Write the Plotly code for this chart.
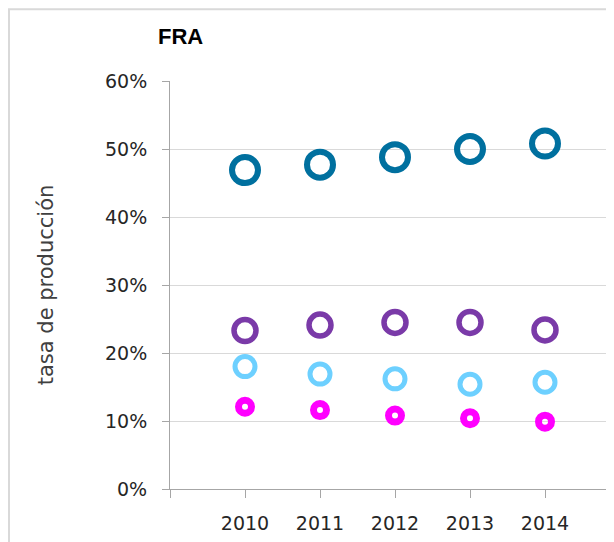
import plotly.graph_objects as go

# FRA - tasa de producción por año
years = [2010, 2011, 2012, 2013, 2014]
serie_azul = [0.469, 0.477, 0.488, 0.500, 0.508]
serie_morada = [0.233, 0.241, 0.245, 0.245, 0.234]
serie_celeste = [0.180, 0.169, 0.162, 0.154, 0.157]
serie_magenta = [0.121, 0.116, 0.108, 0.104, 0.099]

x_tickvals = [2009, 2010, 2011, 2012, 2013, 2014]
x_ticktext = ["", "2010", "2011", "2012", "2013", "2014"]
y_tickvals = [0, 0.1, 0.2, 0.3, 0.4, 0.5, 0.6]

series = [
    (serie_magenta, "#ff00ff", 13, 7),
    (serie_celeste, "#6dd0ff", 20, 5),
    (serie_morada, "#7a3aa8", 22, 5.5),
    (serie_azul, "#00709f", 26, 6),
]

fig = go.Figure()
for vals, color, size, lw in series:
    fig.add_trace(go.Scatter(
        x=years, y=vals, mode="markers",
        marker=dict(symbol="circle-open", size=size, color=color,
                    line=dict(width=lw, color=color)),
        showlegend=False, cliponaxis=False,
    ))

# la página tiene 8px de margen en el body
W, H = 606, 534
fig.update_layout(
    width=W, height=H,
    margin=dict(l=162, r=0, t=73, b=53),
    paper_bgcolor="white", plot_bgcolor="white",
    font=dict(family="DejaVu Sans, Verdana, sans-serif", color="#262626"),
    title=dict(text="<b>FRA</b>", x=150 / W, xref="container", xanchor="left",
               y=1 - 28 / H, yanchor="middle",
               font=dict(size=22, color="black", family="Liberation Sans, Arial, sans-serif")),
)

fig.update_xaxes(
    range=[2009, 2014.92], tickvals=x_tickvals, ticktext=x_ticktext,
    showgrid=False, zeroline=False, showline=True, linecolor="#a6a6a6", linewidth=1,
    ticks="outside", ticklen=8, tickcolor="#a6a6a6", ticklabelstandoff=9,
    tickfont=dict(size=19),
)
fig.update_yaxes(
    range=[0, 0.6], tickvals=y_tickvals, tickformat=".0%",
    showgrid=True, gridcolor="#d9d9d9", gridwidth=1, zeroline=False,
    showline=True, linecolor="#a6a6a6", linewidth=1,
    ticks="outside", ticklen=7, tickcolor="#a6a6a6", ticklabelstandoff=11,
    tickfont=dict(size=19),
    title=dict(text="tasa de producción", standoff=45,
               font=dict(size=21, color="#404040")),
)

# marco gris claro del gráfico
fig.add_shape(type="rect", xref="paper", yref="paper",
              x0=-0.3626, x1=1.2, y0=-0.3, y1=1.176,
              line=dict(color="#d9d9d9", width=2), layer="below")

fig.write_html("out.html")
